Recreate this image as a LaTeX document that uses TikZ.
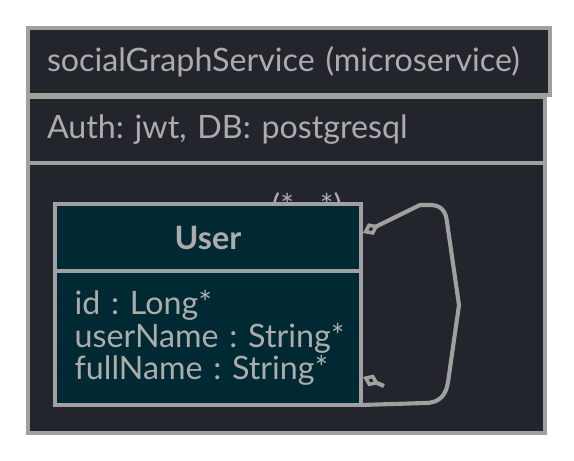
\documentclass[tikz,border=0pt]{standalone}
\usepackage{fontspec}
\setmainfont{Lato}
\usepackage{tikz}
\usetikzlibrary{positioning, arrows.meta}

\definecolor{panelbg}{RGB}{35,37,44}
\definecolor{classbg}{RGB}{0,41,51}
\definecolor{edgegray}{RGB}{160,160,160}
\definecolor{textgray}{RGB}{172,172,172}
\frenchspacing

\begin{document}
\begin{tikzpicture}[x=0.03cm, y=-0.03cm, node distance=0cm, outer sep=0pt,
    every node/.style={rectangle, font=\fontsize{27.5pt}{28pt}\selectfont, text=textgray, anchor=north west},
    panel/.style={draw=edgegray, fill=panelbg, line width=3pt, inner xsep=0.57cm},
    classbox/.style={draw=edgegray, fill=classbg, line width=3pt},
    assoc/.style={draw=edgegray, line width=3.5pt, line join=round,
        {Diamond[open, length=15pt, width=11pt, line width=3pt]}-}]
        \useasboundingbox (0,0) rectangle (574,461);

        \node (body) [panel, minimum width=15.51cm, minimum height=8.1cm] at (28,163) {};
        \node (auth) [panel, text width=14.37cm, minimum height=1.98cm] at (28,97) {Auth: jwt, DB: postgresql};
        \node (service) [panel, text width=14.52cm, minimum height=2.01cm] at (28,28) {socialGraphService (microservice)};

        \node (mult) [anchor=center] at (307,207) {(*\,..\,*)};

        \node (userhead) [classbox, minimum width=9.18cm, minimum height=2.01cm, font=\fontsize{27.5pt}{28pt}\selectfont\bfseries] at (55,204) {User};
        \node (userattrs) [classbox, text width=8.0cm, inner xsep=0.59cm, minimum height=4.02cm] at (55,271) {
            \mbox{id : Long*}\\
            \mbox{userName : String*}\\
            \mbox{fullName : String*}
        };

        \coordinate (looptop) at (363,233);
        \coordinate (loopbottom) at (363,377);
        \draw[assoc] (looptop) -- (420,205) -- (432,205) .. controls (442,206) and (446,212) .. (447,222) -- (459,305) -- (448,382) .. controls (446,395) and (440,403) .. (425,403) -- (userattrs.south east);
        \draw[assoc] (loopbottom) -- (384,386);
    \end{tikzpicture}
\end{document}
